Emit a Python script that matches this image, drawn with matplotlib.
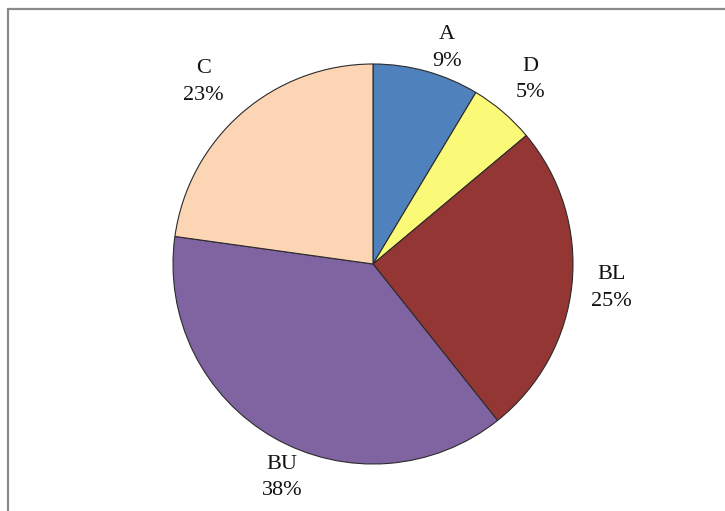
import matplotlib
matplotlib.use("Agg")
import matplotlib.pyplot as plt
from matplotlib.patches import Rectangle
import matplotlib.transforms as mtransforms

categories = ["A", "D", "BL", "BU", "C"]
values = [8.6, 5.3, 25.4, 37.9, 22.8]
colors = ["#4F81BD", "#FAFA78", "#943634", "#8064A2", "#FCD5B5"]

# fine label nudges (pixels, x right / y down) to mimic the original label placement
label_nudge = [(10, 15), (2, -2), (0, 0), (28, 5), (-12, -1)]

W, H = 725, 511
fig = plt.figure(figsize=(W / 100, H / 100), dpi=100)
fig.patch.set_facecolor("white")

# figure border (gray frame extending beyond right/bottom)
fig.add_artist(Rectangle((8 / W, -0.1), 1.2, (H - 9) / H + 0.1, transform=fig.transFigure,
                         fill=False, edgecolor="#8a8a8a", linewidth=1.6))

cx, cy, r = 373, 264, 200
ax = fig.add_axes([(cx - r) / W, (H - cy - r) / H, 2 * r / W, 2 * r / H])

total = sum(values)
labels = [f"{c}\n{round(v / total * 100)}%" for c, v in zip(categories, values)]
wedges, texts = ax.pie(values, colors=colors, startangle=90, counterclock=False,
                       radius=1.0, labels=labels, labeldistance=1.2,
                       wedgeprops=dict(edgecolor="#2b2b2b", linewidth=0.8),
                       textprops=dict(fontsize=16, family="Liberation Serif", color="#111111",
                                      linespacing=1.55))
ax.set_xlim(-1, 1)
ax.set_ylim(-1, 1)
ax.set_aspect("equal")
ax.axis("off")
for t, (dx, dy) in zip(texts, label_nudge):
    t.set_ha("center")
    t.set_va("center")
    t.set_clip_on(False)
    t.set_transform(mtransforms.offset_copy(ax.transData, fig=fig, x=dx, y=-dy, units="dots"))
for w in wedges:
    w.set_clip_on(False)

fig.savefig("out.png", dpi=100, facecolor="white")
